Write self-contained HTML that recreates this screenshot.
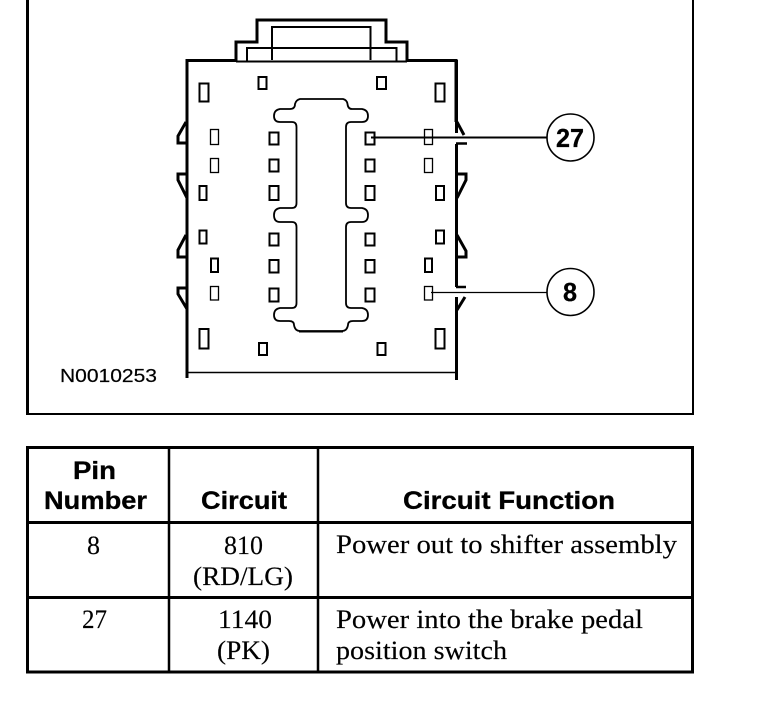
<!DOCTYPE html>
<html>
<head>
<meta charset="utf-8">
<style>
html,body{margin:0;padding:0;background:#fff;width:768px;height:704px;overflow:hidden}
svg{display:block}
.s{font-family:"Liberation Serif",serif;font-size:26px;fill:#000;stroke:#000;stroke-width:.15px}
.b{font-family:"Liberation Sans",sans-serif;font-size:25px;font-weight:bold;fill:#000;stroke:#000;stroke-width:.3px}
</style>
</head>
<body>
<svg width="768" height="704" viewBox="0 0 768 704" xmlns="http://www.w3.org/2000/svg">
<rect width="768" height="704" fill="#fff"/>
<!-- frame -->
<path d="M27.5 0V414" fill="none" stroke="#000" stroke-width="3"/>
<path d="M693 0V414" fill="none" stroke="#000" stroke-width="2"/>
<path d="M26 414H694" fill="none" stroke="#000" stroke-width="2"/>
<!-- connector top -->
<g fill="none" stroke="#000">
<path d="M236 61V42H257V20H386V42H407V61" stroke-width="3"/>
<path d="M236 61.500H407" stroke-width="2"/>
<path d="M272 60V27H370.500V60" stroke-width="2"/>
<path d="M247 61V48H396.500V61" stroke-width="2"/>
<!-- body sides -->
<path d="M236 60.500H187V122M456 122V60.500H407" stroke-width="3"/>
<path d="M187 122V378M456.500 60V133" stroke-width="3"/>
<path d="M456.500 144V287M456.500 297V380" stroke-width="3"/>
<path d="M187.500 372.500H456" stroke-width="1.500"/>
<!-- left notches -->
<path d="M186 122L178 136V143H187" stroke-width="3"/>
<path d="M187 174H178V180L187 198" stroke-width="3"/>
<path d="M186 235L178 250V257H187" stroke-width="3"/>
<path d="M187 288H178V294L187 309" stroke-width="3"/>
<!-- right notches -->
<path d="M457 122L464 135" stroke-width="3"/>
<path d="M456 143.500H467" stroke-width="2.500"/>
<path d="M456 174H466V180L457 198" stroke-width="3"/>
<path d="M457 235L466 251V257H456" stroke-width="3"/>
<path d="M456 287H466" stroke-width="2.500"/>
<path d="M465 297L457 310" stroke-width="3"/>
<!-- centre shape -->
<path d="M300 99H343Q347 100 347.500 104Q348 109 352 109H362Q368 110 368 116Q368 122 362 122H351Q346 122 346 127V203Q346 208 351 208H362Q368 209 368 215Q368 222 362 222H351Q346 222 346 227V303Q346 308 351 308H362Q368 309 368 315Q368 321 362 321H353Q348 321 348 325Q347 331 342 331H300Q295 331 294 325Q294 321 289 321H280Q274 321 274 315Q274 309 280 308H292Q296.500 308 296.500 303V227Q296.500 222 292 222H280Q274 222 274 215Q274 209 280 208H292Q296.500 208 296.500 203V127Q296.500 122 292 122H280Q274 122 274 116Q274 110 280 109H290Q295 109 295 104Q296 100 300 99Z" stroke-width="1.800"/>
<path d="M299 331.500H343" stroke-width="2"/>
</g>
<!-- pins -->
<g fill="#fff" stroke="#000" stroke-width="2">
<rect x="258.500" y="77" width="8" height="12"/>
<rect x="377" y="77" width="9" height="12"/>
<rect x="199.500" y="83.500" width="9" height="18"/>
<rect x="435.500" y="83.500" width="9" height="18"/>
<rect x="269.500" y="132.500" width="9" height="12"/>
<rect x="269.500" y="159.500" width="9" height="12"/>
<rect x="269.500" y="186" width="9" height="14"/>
<rect x="365.500" y="132.500" width="9" height="12"/>
<rect x="365.500" y="159.500" width="9" height="12"/>
<rect x="365.500" y="186" width="9" height="14"/>
<rect x="199.500" y="186" width="7" height="14"/>
<rect x="436" y="186" width="8" height="14"/>
<rect x="199.500" y="230.500" width="7" height="13"/>
<rect x="436" y="230.500" width="8" height="13"/>
<rect x="269.500" y="233.500" width="9" height="12"/>
<rect x="269.500" y="260" width="9" height="12.500"/>
<rect x="269.500" y="288.500" width="9" height="13"/>
<rect x="365.500" y="233.500" width="9" height="12"/>
<rect x="365.500" y="260" width="9" height="12.500"/>
<rect x="365.500" y="288.500" width="9" height="13"/>
<rect x="211" y="258.500" width="7" height="13.500"/>
<rect x="425" y="258.500" width="7" height="13.500"/>
<rect x="199.500" y="329" width="9" height="19.500"/>
<rect x="435.500" y="329" width="9" height="19.500"/>
<rect x="259" y="343" width="8" height="12"/>
<rect x="377.500" y="343" width="8" height="12"/>
</g>
<g fill="#fff" stroke="#000" stroke-width="1.300">
<rect x="210.500" y="129.500" width="8" height="15"/>
<rect x="210.500" y="158.500" width="8" height="14"/>
<rect x="424.500" y="129.500" width="8" height="15"/>
<rect x="424.500" y="158.500" width="8" height="14"/>
<rect x="210.500" y="286.500" width="8" height="13.500"/>
<rect x="424.500" y="286.500" width="8" height="13.500"/>
</g>
<!-- leaders and callouts -->
<path d="M371 137.500H547" stroke="#000" stroke-width="2" fill="none"/>
<path d="M431 292.500H547" stroke="#000" stroke-width="1.300" fill="none"/>
<circle cx="570.500" cy="137.500" r="23.500" fill="#fff" stroke="#000" stroke-width="1.600"/>
<circle cx="570.500" cy="292" r="23.500" fill="#fff" stroke="#000" stroke-width="1.600"/>
<text class="b" x="556" y="147" textLength="28" lengthAdjust="spacingAndGlyphs" style="font-size:26px">27</text>
<text class="b" x="563" y="301" textLength="14" lengthAdjust="spacingAndGlyphs" style="font-size:26px">8</text>
<text x="60" y="382" textLength="97" lengthAdjust="spacingAndGlyphs" style="font-family:'Liberation Sans',sans-serif;font-size:18px;fill:#000;stroke:#000;stroke-width:.2px">N0010253</text>
<!-- table -->
<g fill="none" stroke="#000" stroke-width="3">
<rect x="27.500" y="447.500" width="665" height="224.500"/>
<path d="M27 522.500H692M27 597.500H692"/>
</g>
<path d="M169 447V672M318 447V672" stroke="#000" stroke-width="2.500" fill="none"/>
<text class="b" x="73" y="479" textLength="43" lengthAdjust="spacingAndGlyphs">Pin</text>
<text class="b" x="44" y="509" textLength="103" lengthAdjust="spacingAndGlyphs">Number</text>
<text class="b" x="201" y="509" textLength="86" lengthAdjust="spacingAndGlyphs">Circuit</text>
<text class="b" x="403" y="509" textLength="212" lengthAdjust="spacingAndGlyphs">Circuit Function</text>
<text class="s" x="87" y="554" textLength="13" lengthAdjust="spacingAndGlyphs">8</text>
<text class="s" x="224" y="554" textLength="39" lengthAdjust="spacingAndGlyphs">810</text>
<text class="s" x="193" y="585" textLength="100" lengthAdjust="spacingAndGlyphs">(RD/LG)</text>
<text class="s" x="336" y="553" textLength="341" lengthAdjust="spacingAndGlyphs">Power out to shifter assembly</text>
<text class="s" x="82" y="628" textLength="25" lengthAdjust="spacingAndGlyphs">27</text>
<text class="s" x="218" y="628" textLength="54" lengthAdjust="spacingAndGlyphs">1140</text>
<text class="s" x="217" y="659" textLength="53" lengthAdjust="spacingAndGlyphs">(PK)</text>
<text class="s" x="336" y="628" textLength="307" lengthAdjust="spacingAndGlyphs">Power into the brake pedal</text>
<text class="s" x="336" y="659" textLength="171" lengthAdjust="spacingAndGlyphs">position switch</text>
</svg>
</body>
</html>
